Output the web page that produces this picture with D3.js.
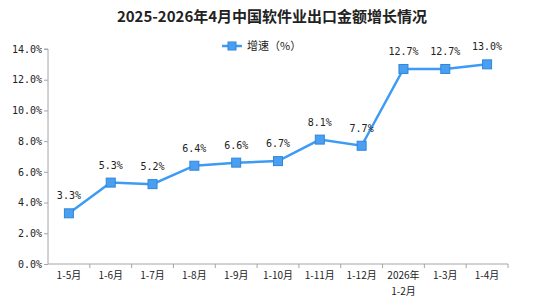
<!DOCTYPE html>
<html>
<head>
<meta charset="utf-8">
<script src="https://cdn.jsdelivr.net/npm/d3@7"></script>
<style>
  body { margin: 0; background: #fff; }
  svg text { fill: #222; }
</style>
</head>
<body>
<div id="chart"></div>
<script>
const categories = ["1-5月", "1-6月", "1-7月", "1-8月", "1-9月", "1-10月", "1-11月", "1-12月", "2026年\n1-2月", "1-3月", "1-4月"];
const growth = [3.3, 5.3, 5.2, 6.4, 6.6, 6.7, 8.1, 7.7, 12.7, 12.7, 13.0];
const yTicks = [0, 2, 4, 6, 8, 10, 12, 14];
const title = "2025-2026年4月中国软件业出口金额增长情况";
const seriesName = "增速（%）";

const margin = { top: 49, right: 37, bottom: 38, left: 48 };
const width = 545 - margin.left - margin.right;
const height = 302 - margin.top - margin.bottom;
const monoFont = "'DejaVu Sans Mono', 'Noto Sans CJK SC', monospace";
const cjkFont = "'Noto Sans CJK SC', sans-serif";

const root = d3.select("#chart")
    .append("svg")
    .attr("width", 545)
    .attr("height", 302);

root.append("text")
    .attr("x", 272)
    .attr("y", 22)
    .attr("text-anchor", "middle")
    .style("font-family", cjkFont)
    .style("font-weight", "bold")
    .style("font-size", "15px")
    .text(title);

const svg = root.append("g")
    .attr("transform", `translate(${margin.left},${margin.top})`);

const xScale = d3.scaleBand()
    .domain(categories)
    .range([0, width]);

const yScale = d3.scaleLinear()
    .domain([0, 14])
    .range([height, 0]);

// y axis
const yAxis = svg.append("g")
    .call(d3.axisLeft(yScale).tickValues(yTicks).tickSize(4).tickFormat(d => d.toFixed(1) + "%"));
yAxis.select(".domain").attr("stroke", "#a6a6a6").attr("d", `M-4,0H0V${height}`);
yAxis.selectAll(".tick line").attr("stroke", "#a6a6a6");
yAxis.selectAll("text")
    .style("font-family", monoFont)
    .style("font-size", "10px")
    .attr("x", -6);

// x axis
const xAxis = svg.append("g")
    .attr("transform", `translate(0,${height})`)
    .call(d3.axisBottom(xScale).tickSize(0).tickFormat(""));
xAxis.select(".domain").attr("stroke", "#a6a6a6").attr("d", `M0,0H${width}`);

svg.append("g")
    .selectAll("line")
    .data(categories)
    .enter()
    .append("line")
    .attr("x1", d => xScale(d) + xScale.bandwidth())
    .attr("x2", d => xScale(d) + xScale.bandwidth())
    .attr("y1", height)
    .attr("y2", height + 4)
    .attr("stroke", "#a6a6a6");

svg.append("g")
    .selectAll("text")
    .data(categories)
    .enter()
    .append("text")
    .attr("x", d => xScale(d) + xScale.bandwidth() / 2)
    .attr("y", height + 15)
    .attr("text-anchor", "middle")
    .style("font-family", cjkFont)
    .style("font-size", "10px")
    .each(function(d) {
        const lines = d.split("\n");
        d3.select(this).selectAll("tspan")
            .data(lines)
            .enter()
            .append("tspan")
            .attr("x", xScale(d) + xScale.bandwidth() / 2)
            .attr("dy", (l, i) => i === 0 ? 0 : 16)
            .text(l => l);
    });

// line
const cx = (d, i) => xScale(categories[i]) + xScale.bandwidth() / 2;
const line = d3.line()
    .x((d, i) => cx(d, i))
    .y(d => yScale(d));

svg.append("path")
    .datum(growth)
    .attr("fill", "none")
    .attr("stroke", "#3d9bf5")
    .attr("stroke-width", 2.5)
    .attr("d", line);

svg.selectAll(".marker")
    .data(growth)
    .enter()
    .append("rect")
    .attr("class", "marker")
    .attr("x", (d, i) => cx(d, i) - 4.5)
    .attr("y", d => yScale(d) - 4.5)
    .attr("width", 9)
    .attr("height", 9)
    .attr("fill", "#4a9ff0")
    .attr("stroke", "#2f86d8")
    .attr("stroke-width", 1);

svg.selectAll(".label")
    .data(growth)
    .enter()
    .append("text")
    .attr("class", "label")
    .attr("x", (d, i) => cx(d, i))
    .attr("y", d => yScale(d) - 14)
    .attr("text-anchor", "middle")
    .style("font-family", monoFont)
    .style("font-size", "10px")
    .text(d => d.toFixed(1) + "%");

// legend
const legend = root.append("g").attr("transform", "translate(222,46)");
legend.append("line")
    .attr("x1", 0).attr("x2", 20)
    .attr("stroke", "#3d9bf5").attr("stroke-width", 2.5);
legend.append("rect")
    .attr("x", 6).attr("y", -4).attr("width", 8).attr("height", 8)
    .attr("fill", "#4a9ff0").attr("stroke", "#2f86d8");
legend.append("text")
    .attr("x", 25).attr("y", 4)
    .style("font-family", cjkFont)
    .style("font-size", "11px")
    .text(seriesName);
</script>
</body>
</html>
